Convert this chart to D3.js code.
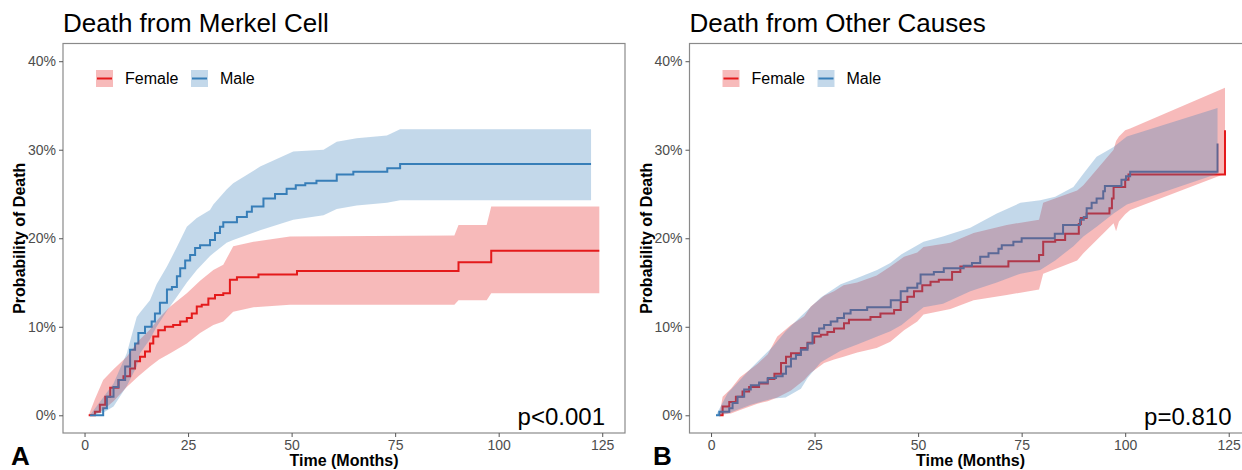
<!DOCTYPE html>
<html>
<head>
<meta charset="utf-8">
<script src="https://cdn.jsdelivr.net/npm/d3@7"></script>
<style>
body { margin: 0; background: #fff; }
svg { display: block; font-family: "Liberation Sans", Arial, sans-serif; }
</style>
</head>
<body>
<svg id="chart" width="1242" height="470"></svg>
<script>

// ---- datos: [mes, %] para las curvas, [mes, inferior, superior] para los IC ----
var merkelFemaleLine = [[1.0,0],[2.5,0.4],[3.7,1.2],[5.0,2.1],[6.2,3.1],[8.2,4.0],[9.4,4.4],[11.0,5.3],[12.2,6.1],[13.4,6.6],[14.6,7.2],[15.8,8.1],[16.6,8.9],[17.8,9.6],[19.4,10.0],[21.4,10.2],[23.1,10.6],[24.7,11.0],[25.9,11.5],[27.1,12.3],[28.3,12.5],[29.9,13.2],[31.5,13.6],[33.5,13.8],[35.1,15.3],[36.8,15.6],[42.0,15.9],[51.3,16.3],[90.3,17.3],[98.2,18.6],[124.3,18.6]];
var merkelFemaleCI = [[1.0,0,0],[2.5,0.1,1.8],[4.5,0.6,4.0],[7.0,1.6,5.2],[10.2,3.2,6.6],[13.0,4.4,8.4],[15.8,5.5,9.7],[18.0,6.3,11.0],[20.7,7.0,12.3],[24.7,8.1,13.8],[27.9,9.3,15.2],[31.1,10.2,16.4],[33.5,10.6,17.0],[35.9,11.7,19.1],[40.8,12.2,19.6],[49.6,12.5,20.2],[89.3,12.5,20.3],[90.3,13.0,21.5],[97.1,13.0,21.5],[98.2,13.8,23.6],[124.3,13.8,23.6]];
var merkelMaleLine = [[1.3,0],[4.5,0.8],[5.4,2.1],[7.0,3.2],[8.2,4.0],[9.8,5.5],[11.0,7.4],[12.2,8.1],[13.0,9.3],[14.6,10.0],[16.2,10.6],[17.0,11.5],[18.2,12.7],[19.9,14.2],[21.1,14.5],[22.3,15.7],[23.1,16.6],[24.3,17.5],[25.5,18.1],[26.7,18.9],[27.9,19.2],[30.3,19.8],[31.5,20.6],[32.7,21.3],[33.5,21.8],[36.8,22.4],[39.2,23.0],[40.4,23.6],[43.2,24.5],[46.0,25.0],[48.8,25.6],[51.0,26.0],[53.3,26.2],[56.0,26.5],[60.9,27.2],[64.9,27.5],[73.1,27.9],[76.2,28.4],[122.3,28.4]];
var merkelMaleCI = [[1.3,0,0],[4.5,0.3,2.0],[7.0,1.0,3.6],[10.2,3.3,7.0],[12.6,5.5,11.1],[13.4,7.0,11.6],[15.8,8.6,13.0],[17.4,10.0,14.8],[19.9,11.8,16.8],[22.3,13.4,19.0],[24.7,15.0,21.3],[27.1,16.4,22.3],[30.3,18.0,23.2],[31.1,18.3,23.8],[34.3,19.5,25.5],[35.9,19.8,26.2],[42.4,20.9,28.1],[50.4,22.1,29.8],[57.7,22.6,30.0],[60.9,23.3,30.9],[65.7,23.7,31.3],[73.0,24.0,31.6],[76.2,24.3,32.3],[122.3,24.3,32.3]];

var otherFemaleLine = [[2.0,0],[2.8,1.0],[4.4,1.5],[6.0,2.1],[7.6,2.7],[9.2,3.2],[11.6,3.6],[13.7,4.1],[15.3,4.7],[16.9,5.9],[18.1,6.6],[19.3,7.0],[21.7,7.6],[23.3,8.2],[24.9,8.9],[26.5,9.1],[28.1,9.4],[29.7,9.8],[32.1,10.4],[33.3,10.8],[38.5,11.1],[40.9,11.5],[44.2,11.9],[45.8,12.8],[47.4,13.4],[49.0,14.0],[51.0,14.7],[53.0,15.1],[55.0,15.3],[58.2,16.2],[60.2,16.8],[71.8,17.4],[79.2,18.1],[80.2,19.6],[83.1,19.8],[85.5,20.5],[88.8,21.6],[89.3,22.3],[90.7,22.8],[96.2,23.4],[96.8,24.5],[97.2,25.8],[100.0,26.6],[100.8,27.2],[124.1,32.2]];
var otherFemaleCI = [[2.0,0,0],[2.8,0.1,2.1],[4.8,0.2,3.0],[7.0,0.6,4.3],[11.2,1.3,5.8],[13.7,1.6,6.9],[16.0,2.0,8.9],[19.3,2.8,10.2],[22.5,4.0,11.2],[24.1,4.8,12.3],[27.3,5.9,13.5],[29.7,6.3,14.0],[32.0,6.6,14.7],[35.3,7.1,15.0],[40.0,7.6,15.8],[43.3,8.3,16.8],[46.6,9.6,17.9],[49.8,10.6,18.4],[51.3,11.4,19.0],[57.8,12.0,19.5],[63.4,13.0,20.6],[71.4,13.6,21.5],[79.2,14.2,22.1],[80.2,16.0,24.0],[88.4,17.5,25.4],[89.9,18.3,26.0],[97.2,21.7,30.0],[97.8,20.8,31.0],[98.5,21.9,31.5],[100.0,22.7,32.2],[101.2,23.2,32.4],[124.1,27.3,37.0]];
var otherMaleLine = [[1.2,0],[2.0,0.4],[4.4,0.8],[5.2,1.4],[6.4,2.1],[8.0,2.9],[9.6,3.4],[11.6,3.7],[13.7,4.2],[15.7,4.4],[17.3,4.7],[18.1,5.5],[19.3,6.4],[20.5,6.8],[21.7,7.4],[23.3,8.1],[24.5,9.3],[26.1,9.8],[27.3,10.2],[28.9,10.6],[30.5,11.0],[32.1,11.5],[33.7,11.9],[37.7,12.2],[43.4,13.0],[45.8,14.0],[47.4,14.4],[49.8,14.9],[50.6,15.9],[53.8,16.2],[56.2,16.6],[61.0,16.9],[63.0,17.2],[65.0,17.9],[67.0,18.3],[69.4,18.8],[70.2,19.2],[73.0,19.6],[75.0,20.0],[83.0,20.5],[85.0,21.5],[89.1,22.1],[90.0,22.4],[90.7,23.4],[91.9,24.0],[93.1,24.5],[94.7,25.3],[95.1,25.9],[99.1,26.6],[100.2,27.0],[101.2,27.5],[122.3,30.7]];
var otherMaleCI = [[1.2,0,0],[4.0,0.2,2.5],[9.6,1.2,5.3],[15.0,1.9,7.8],[18.0,2.0,9.5],[21.7,3.0,11.2],[23.3,4.2,11.9],[26.5,6.0,13.3],[31.3,7.3,14.8],[35.3,8.0,15.5],[40.1,8.9,16.4],[43.3,9.5,17.2],[46.0,10.2,18.2],[51.3,12.2,19.6],[56.0,12.6,20.2],[62.6,14.0,21.2],[69.0,15.0,22.8],[74.7,16.0,24.0],[79.5,16.4,24.3],[83.1,17.5,24.7],[87.5,19.1,25.8],[89.9,20.2,27.3],[93.1,21.3,29.2],[97.2,22.8,30.3],[100.4,23.8,31.5],[122.3,27.3,34.7]];

var groupNames = ["Female", "Male"];
var groupColors = ["#E41A1C", "#377EB8"];
var xTicks = [0, 25, 50, 75, 100, 125];
var yTicks = [0, 10, 20, 30, 40];

var svg = d3.select("#chart");

dibujaPanel({ left: 63, title: "Death from Merkel Cell", letter: "A", letterX: 11, pvalue: "p<0.001",
    lines: [merkelFemaleLine, merkelMaleLine], bands: [merkelFemaleCI, merkelMaleCI] });
dibujaPanel({ left: 689.5, title: "Death from Other Causes", letter: "B", letterX: 653, pvalue: "p=0.810",
    lines: [otherFemaleLine, otherMaleLine], bands: [otherFemaleCI, otherMaleCI] });


function dibujaPanel(cfg) {
    var ancho = 562, arriba = 43.5, abajo = 433;
    var x = d3.scaleLinear().domain([-5.2, 130.5]).range([cfg.left, cfg.left + ancho]);
    var y = d3.scaleLinear().domain([-2, 42]).range([abajo, arriba]);
    var g = svg.append("g");

    // titulo
    g.append("text").attr("x", cfg.left).attr("y", 32)
        .attr("font-size", 26).attr("fill", "#000").text(cfg.title);

    // curvas primero, luego las bandas encima (como en la figura)
    var linea = d3.line().x(function (d) { return x(d[0]); }).y(function (d) { return y(d[1]); })
        .curve(d3.curveStepAfter);
    var banda = d3.area().x(function (d) { return x(d[0]); })
        .y0(function (d) { return y(d[1]); }).y1(function (d) { return y(d[2]); });

    cfg.lines.forEach(function (serie, i) {
        g.append("path").attr("d", linea(serie)).attr("fill", "none")
            .attr("stroke", groupColors[i]).attr("stroke-width", 2);
    });
    cfg.bands.forEach(function (serie, i) {
        g.append("path").attr("d", banda(serie)).attr("fill", groupColors[i])
            .attr("fill-opacity", 0.3).attr("stroke", "none");
    });

    // marco del panel
    g.append("rect").attr("x", cfg.left).attr("y", arriba).attr("width", ancho).attr("height", abajo - arriba)
        .attr("fill", "none").attr("stroke", "#8a8a8a").attr("stroke-width", 1.2);

    // ejes
    var ejeX = d3.axisBottom(x).tickValues(xTicks).tickSize(4).tickSizeOuter(0).tickPadding(3);
    var gx = g.append("g").attr("transform", "translate(0," + abajo + ")").call(ejeX);
    var ejeY = d3.axisLeft(y).tickValues(yTicks).tickSize(4).tickSizeOuter(0).tickPadding(3)
        .tickFormat(function (d) { return d + "%"; });
    var gy = g.append("g").attr("transform", "translate(" + cfg.left + ",0)").call(ejeY);
    [gx, gy].forEach(function (ax) {
        ax.select(".domain").remove();
        ax.selectAll(".tick line").attr("stroke", "#555");
        ax.selectAll(".tick text").attr("fill", "#4D4D4D").attr("font-size", 14)
            .attr("font-family", "'Liberation Sans', Arial, sans-serif");
    });

    // titulos de ejes
    g.append("text").attr("x", cfg.left + ancho / 2).attr("y", 466).attr("text-anchor", "middle")
        .attr("font-size", 16).attr("font-weight", "bold").text("Time (Months)");
    g.append("text").attr("transform", "translate(" + (cfg.left - 38) + "," + ((arriba + abajo) / 2) + ") rotate(-90)")
        .attr("text-anchor", "middle").attr("font-size", 16).attr("font-weight", "bold")
        .text("Probability of Death");

    // letra del panel
    g.append("text").attr("x", cfg.letterX).attr("y", 465).attr("font-size", 26)
        .attr("font-weight", "bold").text(cfg.letter);

    // valor p
    g.append("text").attr("x", cfg.left + ancho - 20).attr("y", 425).attr("text-anchor", "end")
        .attr("font-size", 24).text(cfg.pvalue);

    // leyenda
    var posLeyenda = [cfg.left + 33, cfg.left + 128];
    groupNames.forEach(function (nombre, i) {
        var lx = posLeyenda[i];
        g.append("rect").attr("x", lx).attr("y", 70).attr("width", 17).attr("height", 17)
            .attr("fill", groupColors[i]).attr("fill-opacity", 0.3);
        g.append("line").attr("x1", lx + 1).attr("x2", lx + 16).attr("y1", 78.5).attr("y2", 78.5)
            .attr("stroke", groupColors[i]).attr("stroke-width", 2);
        g.append("text").attr("x", lx + 29).attr("y", 84).attr("font-size", 16).text(nombre);
    });
}
</script>
</body>
</html>
